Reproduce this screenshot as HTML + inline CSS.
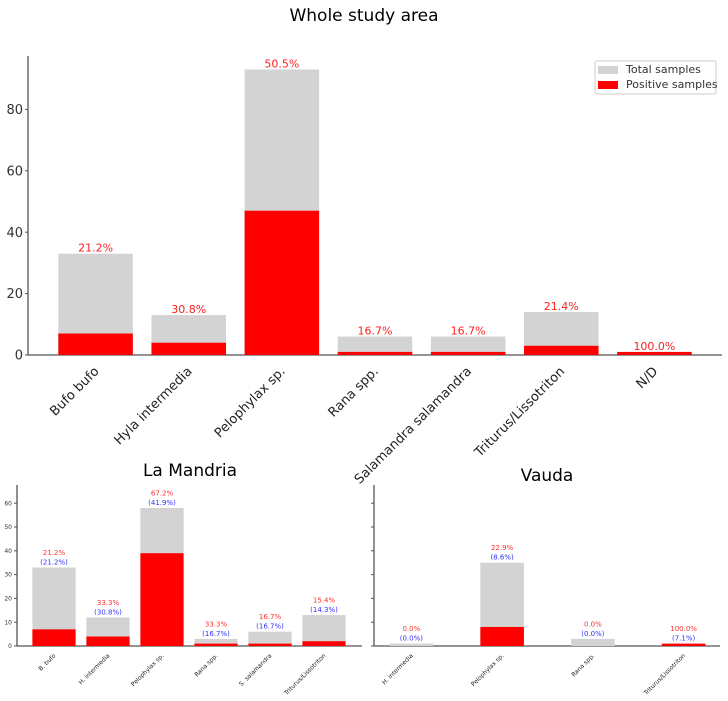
<!DOCTYPE html>
<html><head><meta charset="utf-8"><style>
body{margin:0;background:#fff;font-family:"Liberation Sans","DejaVu Sans",sans-serif}
svg text{font-family:"DejaVu Sans","Liberation Sans",sans-serif}
</style></head><body>
<svg id="c" width="728" height="696" xmlns="http://www.w3.org/2000/svg">
<text x="364" y="21" font-size="17" text-anchor="middle">Whole study area</text>
<text x="190" y="476" font-size="17" text-anchor="middle">La Mandria</text>
<text x="547" y="481" font-size="17" text-anchor="middle">Vauda</text>
<g>
<rect x="595" y="61" width="121" height="33" fill="#fff" stroke="#ccc" rx="2"/>
<rect x="598" y="66" width="20" height="8" fill="#d3d3d3"/>
<text x="626" y="73" font-size="11" fill="#333">Total samples</text>
<rect x="598" y="81" width="20" height="8" fill="#ff0000"/>
<text x="626" y="88" font-size="11" fill="#333">Positive samples</text>
</g>
</svg>
<script>
const mainCats=["Bufo bufo","Hyla intermedia","Pelophylax sp.","Rana spp.","Salamandra salamandra","Triturus/Lissotriton","N/D"];
const mainTotal=[33,13,93,6,6,14,1];
const mainPos=[7,4,47,1,1,3,1];
const yTicksMain=[0,20,40,60,80];
const lmCats=["B. bufo","H. intermedia","Pelophylax sp.","Rana spp.","S. salamandra","Triturus/Lissotriton"];
const lmTotal=[33,12,58,3,6,13];
const lmPos=[7,4,39,1,1,2];
const lmShare=["21.2%","30.8%","41.9%","16.7%","16.7%","14.3%"];
const vaCats=["H. intermedia","Pelophylax sp.","Rana spp.","Triturus/Lissotriton"];
const vaTotal=[1,35,3,1];
const vaPos=[0,8,0,1];
const vaShare=["0.0%","8.6%","0.0%","7.1%"];
const yTicksSub=[0,10,20,30,40,50,60];
const svg=document.getElementById('c');
const NS="http://www.w3.org/2000/svg";
function mk(t,a,p){const e=document.createElementNS(NS,t);for(const k in a)e.setAttribute(k,a[k]);(p||svg).appendChild(e);return e;}
function chart(o){
  const g=mk('g',{});
  
  
  const n=o.cats.length, step=(o.x1-o.x0)/n;
  const ys=v=>o.base-v*o.k;
  const xc=i=>o.x0+step*(i+0.5);
  const bw=step*o.bwf;
  mk('line',{x1:o.x0-o.pad,y1:o.base,x2:o.xEnd,y2:o.base,stroke:'#555','stroke-width':1.3},g);
  mk('line',{x1:o.x0-o.pad,y1:o.base,x2:o.x0-o.pad,y2:o.top,stroke:'#555','stroke-width':1.3},g);
  o.ticks.forEach(t=>{
    mk('line',{x1:o.x0-o.pad,y1:ys(t),x2:o.x0-o.pad-3,y2:ys(t),stroke:'#555'},g);
    if(o.showY){const tx=mk('text',{x:o.x0-o.pad-5,y:ys(t)+o.fs*0.35,'font-size':o.fs,'text-anchor':'end',fill:'#333'},g);tx.textContent=t;}
  });
  o.cats.forEach((c,i)=>{
    const tb=mk('rect',{x:xc(i)-bw/2,y:ys(o.total[i]),width:bw,height:o.total[i]*o.k,fill:'#d3d3d3'},g);
    
    
    const pb=mk('rect',{x:xc(i)-bw/2,y:ys(o.pos[i]),width:bw,height:o.pos[i]*o.k,fill:'#ff0000'},g);
    
    
    const pct=(o.total[i]?o.pos[i]/o.total[i]*100:0).toFixed(1)+'%';
    if(o.share){
      const a=mk('text',{x:xc(i),y:ys(o.total[i])-o.lfs*1.5-2,'font-size':o.lfs,'text-anchor':'middle',fill:'#ff3030'},g);a.textContent=pct;
      const b=mk('text',{x:xc(i),y:ys(o.total[i])-3,'font-size':o.lfs,'text-anchor':'middle',fill:'#3030ff'},g);b.textContent='('+o.share[i]+')';
    }else{
      const a=mk('text',{x:xc(i),y:ys(o.total[i])-2,'font-size':o.lfs,'text-anchor':'middle',fill:'#ff2020'},g);a.textContent=pct;
    }
    const lx=xc(i)+o.lfsx, ly=o.base+o.xfs+4;
    const l=mk('text',{x:lx,y:ly,'font-size':o.xfs,'text-anchor':'end',fill:'#222',transform:`rotate(-45 ${lx} ${ly})`},g);
    l.textContent=c;
    
    
  });
}
chart({name:'main-chart',cats:mainCats,total:mainTotal,pos:mainPos,x0:49,x1:701,base:355,top:56,k:3.07,bwf:0.8,pad:21,xEnd:722,ticks:yTicksMain,showY:true,fs:13,lfs:11,xfs:13,lfsx:4});
chart({name:'la-mandria-chart',cats:lmCats,total:lmTotal,pos:lmPos,share:lmShare,x0:27,x1:351,base:646,top:485,k:2.38,bwf:0.8,pad:10,xEnd:362,ticks:yTicksSub,showY:true,fs:6,lfs:7,xfs:6,lfsx:2});
chart({name:'vauda-chart',cats:vaCats,total:vaTotal,pos:vaPos,share:vaShare,x0:366,x1:729,base:646,top:485,k:2.38,bwf:0.48,pad:-8,xEnd:720,ticks:yTicksSub,showY:false,fs:6,lfs:7,xfs:6,lfsx:2});
</script>
</body></html>
